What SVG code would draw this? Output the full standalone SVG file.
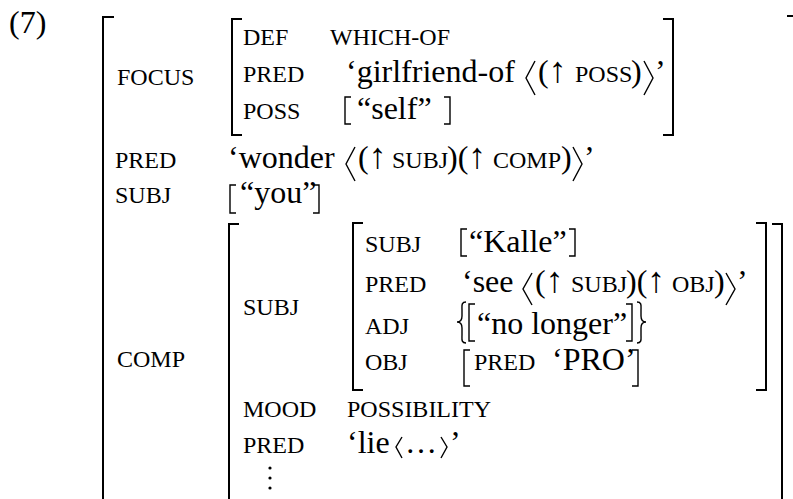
<svg xmlns="http://www.w3.org/2000/svg" width="793" height="499" viewBox="0 0 793 499">
<style>
text{font-family:"Liberation Serif","Times New Roman",serif;fill:#000}
.m{font-size:32px}
.s{font-size:24px}
.ar{font-size:36px}
.br{fill:none;stroke:#000;stroke-width:2}
.dl{fill:none;stroke:#000;stroke-width:1.4}
</style>
<rect width="793" height="499" fill="#fff"/>
<text class="m" x="9" y="33">(7)</text>

<g id="outer">
<path class="br" d="M114,17 H103 V500"/>
<path class="br" d="M787,16 H793"/>
<text class="s" x="117" y="85">FOCUS</text>
<text class="s" x="115" y="168">PRED</text>
<text class="s" x="115" y="203">SUBJ</text>
<text class="s" x="117" y="367">COMP</text>
</g>

<g id="focus">
<path class="br" d="M242,19 H232 V135 H242"/>
<path class="br" d="M663,19 H673 V135 H663"/>
<text class="s" x="243" y="45">DEF</text>
<text class="s" x="330" y="45">WHICH-OF</text>
<text class="s" x="243" y="82">PRED</text>
<text class="m" x="346" y="82">‘girlfriend-of</text>
<path class="dl" d="M535,61 L526,78 L535,95"/>
<text class="m" x="538" y="82">(<tspan class="ar">↑</tspan></text>
<text class="s" x="575" y="82">POSS</text>
<text class="m" x="631" y="82">)</text>
<path class="dl" d="M644,61 L653,78 L644,95"/>
<text class="m" x="655" y="82">’</text>
<text class="s" x="243" y="119">POSS</text>
<path class="dl" d="M351,97 H345 V124 H351"/>
<text class="m" x="357" y="119">“self”</text>
<path class="dl" d="M444,97 H450 V124 H444"/>
</g>

<g id="pred-wonder">
<text class="m" x="228" y="168">‘wonder</text>
<path class="dl" d="M355,147 L346,164 L355,181"/>
<text class="m" x="358" y="168">(<tspan class="ar">↑</tspan></text>
<text class="s" x="392" y="168">SUBJ</text>
<text class="m" x="447" y="168">)(<tspan class="ar">↑</tspan></text>
<text class="s" x="493" y="168">COMP</text>
<text class="m" x="561" y="168">)</text>
<path class="dl" d="M573,147 L582,164 L573,181"/>
<text class="m" x="584" y="168">’</text>
</g>

<g id="subj-you">
<path class="dl" d="M236,185 H230 V213 H236"/>
<text class="m" x="240" y="203">“you”</text>
<path class="dl" d="M313,185 H319 V213 H313"/>
</g>

<g id="comp">
<path class="br" d="M239,224 H229 V500"/>
<path class="br" d="M772,224 H782 V500"/>
<text class="s" x="243" y="315">SUBJ</text>
<text class="s" x="243" y="417">MOOD</text>
<text class="s" x="347" y="417">POSSIBILITY</text>
<text class="s" x="243" y="453">PRED</text>
<text class="m" x="347" y="453">‘lie</text>
<path class="dl" d="M402,437 L396,447 L402,458"/>
<text class="m" x="405" y="453">…</text>
<path class="dl" d="M441,437 L447,447 L441,458"/>
<text class="m" x="450" y="453">’</text>
<circle cx="270" cy="468" r="1.6"/>
<circle cx="270" cy="478" r="1.6"/>
<circle cx="270" cy="488" r="1.6"/>
</g>

<g id="comp-subj">
<path class="br" d="M363,223 H353 V390 H363"/>
<path class="br" d="M756,223 H766 V390 H756"/>
<text class="s" x="365" y="252">SUBJ</text>
<path class="dl" d="M467,229 H461 V256 H467"/>
<text class="m" x="469" y="252">“Kalle”</text>
<path class="dl" d="M569,229 H575 V256 H569"/>

<text class="s" x="365" y="292">PRED</text>
<text class="m" x="462" y="292">‘see</text>
<path class="dl" d="M532,273 L523,289 L532,305"/>
<text class="m" x="535" y="292">(<tspan class="ar">↑</tspan></text>
<text class="s" x="571" y="292">SUBJ</text>
<text class="m" x="626" y="292">)(<tspan class="ar">↑</tspan></text>
<text class="s" x="672" y="292">OBJ</text>
<text class="m" x="714" y="292">)</text>
<path class="dl" d="M726,273 L735,289 L726,305"/>
<text class="m" x="737" y="292">’</text>

<text class="s" x="365" y="334">ADJ</text>
<path class="dl" d="M466,302 C461,302 462,306 462,310 V316 C462,320 460,322 457,322 C460,322 462,324 462,328 V335 C462,339 461,343 466,343"/>
<path class="dl" d="M475,304 H469 V341 H475"/>
<text class="m" x="477" y="334">“no longer”</text>
<path class="dl" d="M626,304 H632 V341 H626"/>
<path class="dl" d="M637,302 C642,302 641,306 641,310 V316 C641,320 643,322 646,322 C643,322 641,324 641,328 V335 C641,339 642,343 637,343"/>

<text class="s" x="365" y="370">OBJ</text>
<path class="dl" d="M470,350 H464 V386 H470"/>
<text class="s" x="474" y="370">PRED</text>
<text class="m" x="552" y="370">‘PRO’</text>
<path class="dl" d="M632,350 H638 V386 H632"/>
</g>
</svg>
